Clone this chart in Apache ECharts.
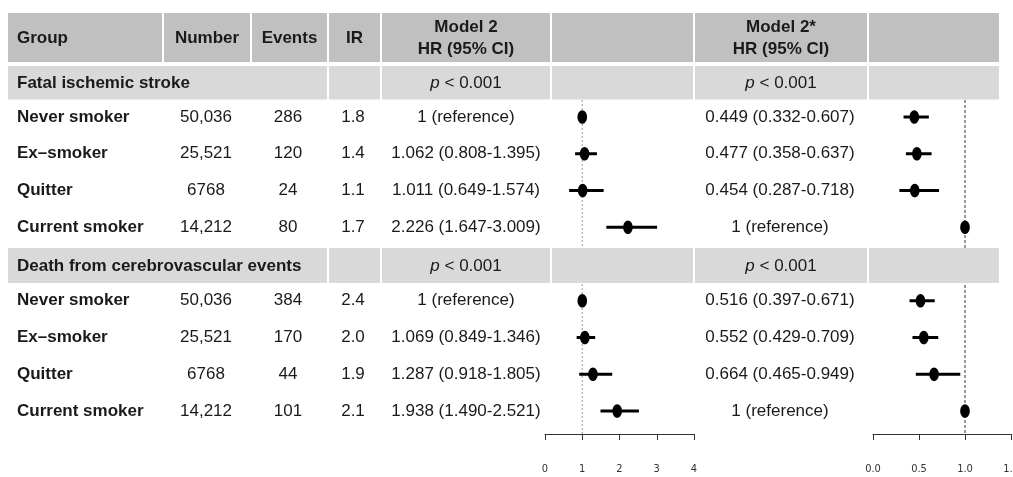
<!DOCTYPE html>
<html><head><meta charset="utf-8">
<script src="https://cdn.jsdelivr.net/npm/echarts@6/dist/echarts.min.js"></script>
<style>html,body{margin:0;padding:0;background:#fff}#c{width:1013px;height:477px}</style>
</head><body><div id="c"></div>
<script>
// ---------- data ----------
const groups = ['Never smoker', 'Ex\u2013smoker', 'Quitter', 'Current smoker'];
const sections = ['Fatal ischemic stroke', 'Death from cerebrovascular events'];
const numbers = [['50,036', '25,521', '6768', '14,212'], ['50,036', '25,521', '6768', '14,212']];
const events = [[286, 120, 24, 80], [384, 170, 44, 101]];
const irVals = [['1.8', '1.4', '1.1', '1.7'], ['2.4', '2.0', '1.9', '2.1']];
const m2hr = [[1, 1.062, 1.011, 2.226], [1, 1.069, 1.287, 1.938]];
const m2lo = [[null, 0.808, 0.649, 1.647], [null, 0.849, 0.918, 1.490]];
const m2hi = [[null, 1.395, 1.574, 3.009], [null, 1.346, 1.805, 2.521]];
const m2sHr = [[0.449, 0.477, 0.454, 1], [0.516, 0.552, 0.664, 1]];
const m2sLo = [[0.332, 0.358, 0.287, null], [0.397, 0.429, 0.465, null]];
const m2sHi = [[0.607, 0.637, 0.718, null], [0.671, 0.709, 0.949, null]];
const pValues = ['< 0.001', '< 0.001'];
const headers = ['Group', 'Number', 'Events', 'IR', 'Model 2\nHR (95% CI)', '', 'Model 2*\nHR (95% CI)', ''];
const leftTicks = { min: 0, max: 4, step: 1 };
const rightTicks = { min: 0, max: 1.5, step: 0.5 };

// ---------- layout ----------
const W = 1013, H = 477;
const rowY0 = 117, rowStep = 36.75;        // pixel centre of first row and spacing
const plotTop = 100, plotBottom = 434;
const yMin = (plotTop - rowY0) / rowStep, yMax = (plotBottom - rowY0) / rowStep;
const colEdges = [8, 163, 251, 328, 381, 551, 694, 868, 1000];
const FONT = '"Liberation Sans", Arial, sans-serif';
const TXT = '#1a1a1a';

function fmt(v, lo, hi) {
  if (lo == null) return '1 (reference)';
  return v.toFixed(3) + ' (' + lo.toFixed(3) + '-' + hi.toFixed(3) + ')';
}
function rowIndex(s, g) { return s * 5 + g; }

const leftData = [], rightData = [];
for (let s = 0; s < 2; s++) for (let g = 0; g < 4; g++) {
  leftData.push([m2hr[s][g], rowIndex(s, g), m2lo[s][g] == null ? '-' : m2lo[s][g], m2hi[s][g] == null ? '-' : m2hi[s][g]]);
  rightData.push([m2sHr[s][g], rowIndex(s, g), m2sLo[s][g] == null ? '-' : m2sLo[s][g], m2sHi[s][g] == null ? '-' : m2sHi[s][g]]);
}

function renderForest(params, api) {
  const x = api.value(0), row = api.value(1), lo = api.value(2), hi = api.value(3);
  const c = api.coord([x, row]);
  const children = [];
  if (isFinite(lo) && isFinite(hi)) {
    const a = api.coord([lo, row]), b = api.coord([hi, row]);
    children.push({ type: 'line', shape: { x1: a[0], y1: a[1], x2: b[0], y2: b[1] }, style: { stroke: '#000', lineWidth: 3 } });
  }
  children.push({ type: 'ellipse', shape: { cx: c[0], cy: c[1], rx: 4.8, ry: 6.8 }, style: { fill: '#000' } });
  return { type: 'group', children };
}

const axisCommon = {
  type: 'value',
  axisLine: { onZero: false, lineStyle: { color: '#333', width: 1 } },
  axisTick: { show: true, length: 6, lineStyle: { color: '#333' } },
  axisLabel: { margin: 30, fontSize: 11, color: '#333', fontFamily: '"Liberation Sans Narrow", "DejaVu Sans Condensed", sans-serif' },
  splitLine: { show: false }
};

const chart = echarts.init(document.getElementById('c'), null, { renderer: 'canvas' });
const option = {
  backgroundColor: '#fff',
  animation: false,
  grid: [
    { left: 545, right: W - 694, top: plotTop, bottom: H - plotBottom, outerBoundsMode: 'none', containLabel: false },
    { left: 873, right: 2, top: plotTop, bottom: H - plotBottom, outerBoundsMode: 'none', containLabel: false }
  ],
  xAxis: [
    Object.assign({}, axisCommon, { gridIndex: 0, min: leftTicks.min, max: leftTicks.max, interval: leftTicks.step,
      axisLabel: Object.assign({}, axisCommon.axisLabel, { formatter: v => String(v) }) }),
    Object.assign({}, axisCommon, { gridIndex: 1, min: rightTicks.min, max: rightTicks.max, interval: rightTicks.step,
      axisLabel: Object.assign({}, axisCommon.axisLabel, { formatter: v => v.toFixed(1) }) })
  ],
  yAxis: [
    { type: 'value', gridIndex: 0, min: yMin, max: yMax, inverse: true, show: false },
    { type: 'value', gridIndex: 1, min: yMin, max: yMax, inverse: true, show: false }
  ],
  series: [
    { type: 'line', xAxisIndex: 0, yAxisIndex: 0, data: [[1, yMin], [1, yMax]], symbol: 'none', silent: true,
      lineStyle: { color: '#999', width: 1, type: [2, 2] }, z: 1 },
    { type: 'line', xAxisIndex: 1, yAxisIndex: 1, data: [[1, yMin], [1, yMax]], symbol: 'none', silent: true,
      lineStyle: { color: '#333', width: 1, type: [3, 2] }, z: 1 },
    { type: 'custom', xAxisIndex: 0, yAxisIndex: 0, renderItem: renderForest, data: leftData, encode: { x: 0, y: 1 }, z: 3 },
    { type: 'custom', xAxisIndex: 1, yAxisIndex: 1, renderItem: renderForest, data: rightData, encode: { x: 0, y: 1 }, z: 3 }
  ]
};
chart.setOption(option);

// ---------- table (graphic) ----------
const graphics = [];
function rect(x1, y1, x2, y2, fill) {
  graphics.push({ type: 'rect', z: 10, silent: true, shape: { x: x1, y: y1, width: x2 - x1, height: y2 - y1 }, style: { fill } });
}
function text(str, x, y, opts) {
  opts = opts || {};
  graphics.push({ type: 'text', z: 20, silent: true, x: x, y: y, style: Object.assign({
    text: str, fill: TXT, fontFamily: FONT, fontSize: 17, fontWeight: opts.bold ? 'bold' : 'normal',
    align: opts.align || 'center', verticalAlign: 'middle', lineHeight: 22
  }, opts.style || {}) });
}
const rowPx = i => chart.convertToPixel({ xAxisIndex: 0, yAxisIndex: 0 }, [0, i])[1];
const HEAD = '#c0c0c0', SEC = '#d9d9d9';
// header band
for (let c = 0; c < 8; c++) rect(colEdges[c] + (c ? 1 : 0), 13, colEdges[c + 1] - 1, 62, HEAD);
const cx = c => (colEdges[c] + colEdges[c + 1]) / 2;
text(headers[0], 17, 38, { bold: true, align: 'left' });
for (let c = 1; c < 8; c++) if (headers[c]) text(headers[c], cx(c), 38, { bold: true });

// section bands
for (let s = 0; s < 2; s++) {
  let y1, y2;
  if (s === 0) { y1 = 66; y2 = 99.5; }
  else { const yc = rowPx(rowIndex(1, -1)); y1 = yc - 16; y2 = yc + 19; }
  rect(colEdges[0], y1, colEdges[3] - 1, y2, SEC);
  for (let c = 3; c < 8; c++) rect(colEdges[c] + 1, y1, colEdges[c + 1] - 1, y2, SEC);
  const ym = (y1 + y2) / 2 + 0.5;
  text(sections[s], 17, ym, { bold: true, align: 'left' });
  const pt = '{i|p} ' + pValues[s];
  const rich = { i: { fontStyle: 'italic', fontSize: 17, fontFamily: FONT, fill: TXT } };
  text(pt, cx(4), ym, { style: { rich } });
  text(pt, cx(6), ym, { style: { rich } });
  for (let g = 0; g < 4; g++) {
    const y = rowPx(rowIndex(s, g));
    text(groups[g], 17, y, { bold: true, align: 'left' });
    text(numbers[s][g], 206, y);
    text(String(events[s][g]), 288, y);
    text(irVals[s][g], 353, y);
    text(fmt(m2hr[s][g], m2lo[s][g], m2hi[s][g]), 466, y);
    text(fmt(m2sHr[s][g], m2sLo[s][g], m2sHi[s][g]), 780, y);
  }
}
chart.setOption({ graphic: graphics });
</script></body></html>
